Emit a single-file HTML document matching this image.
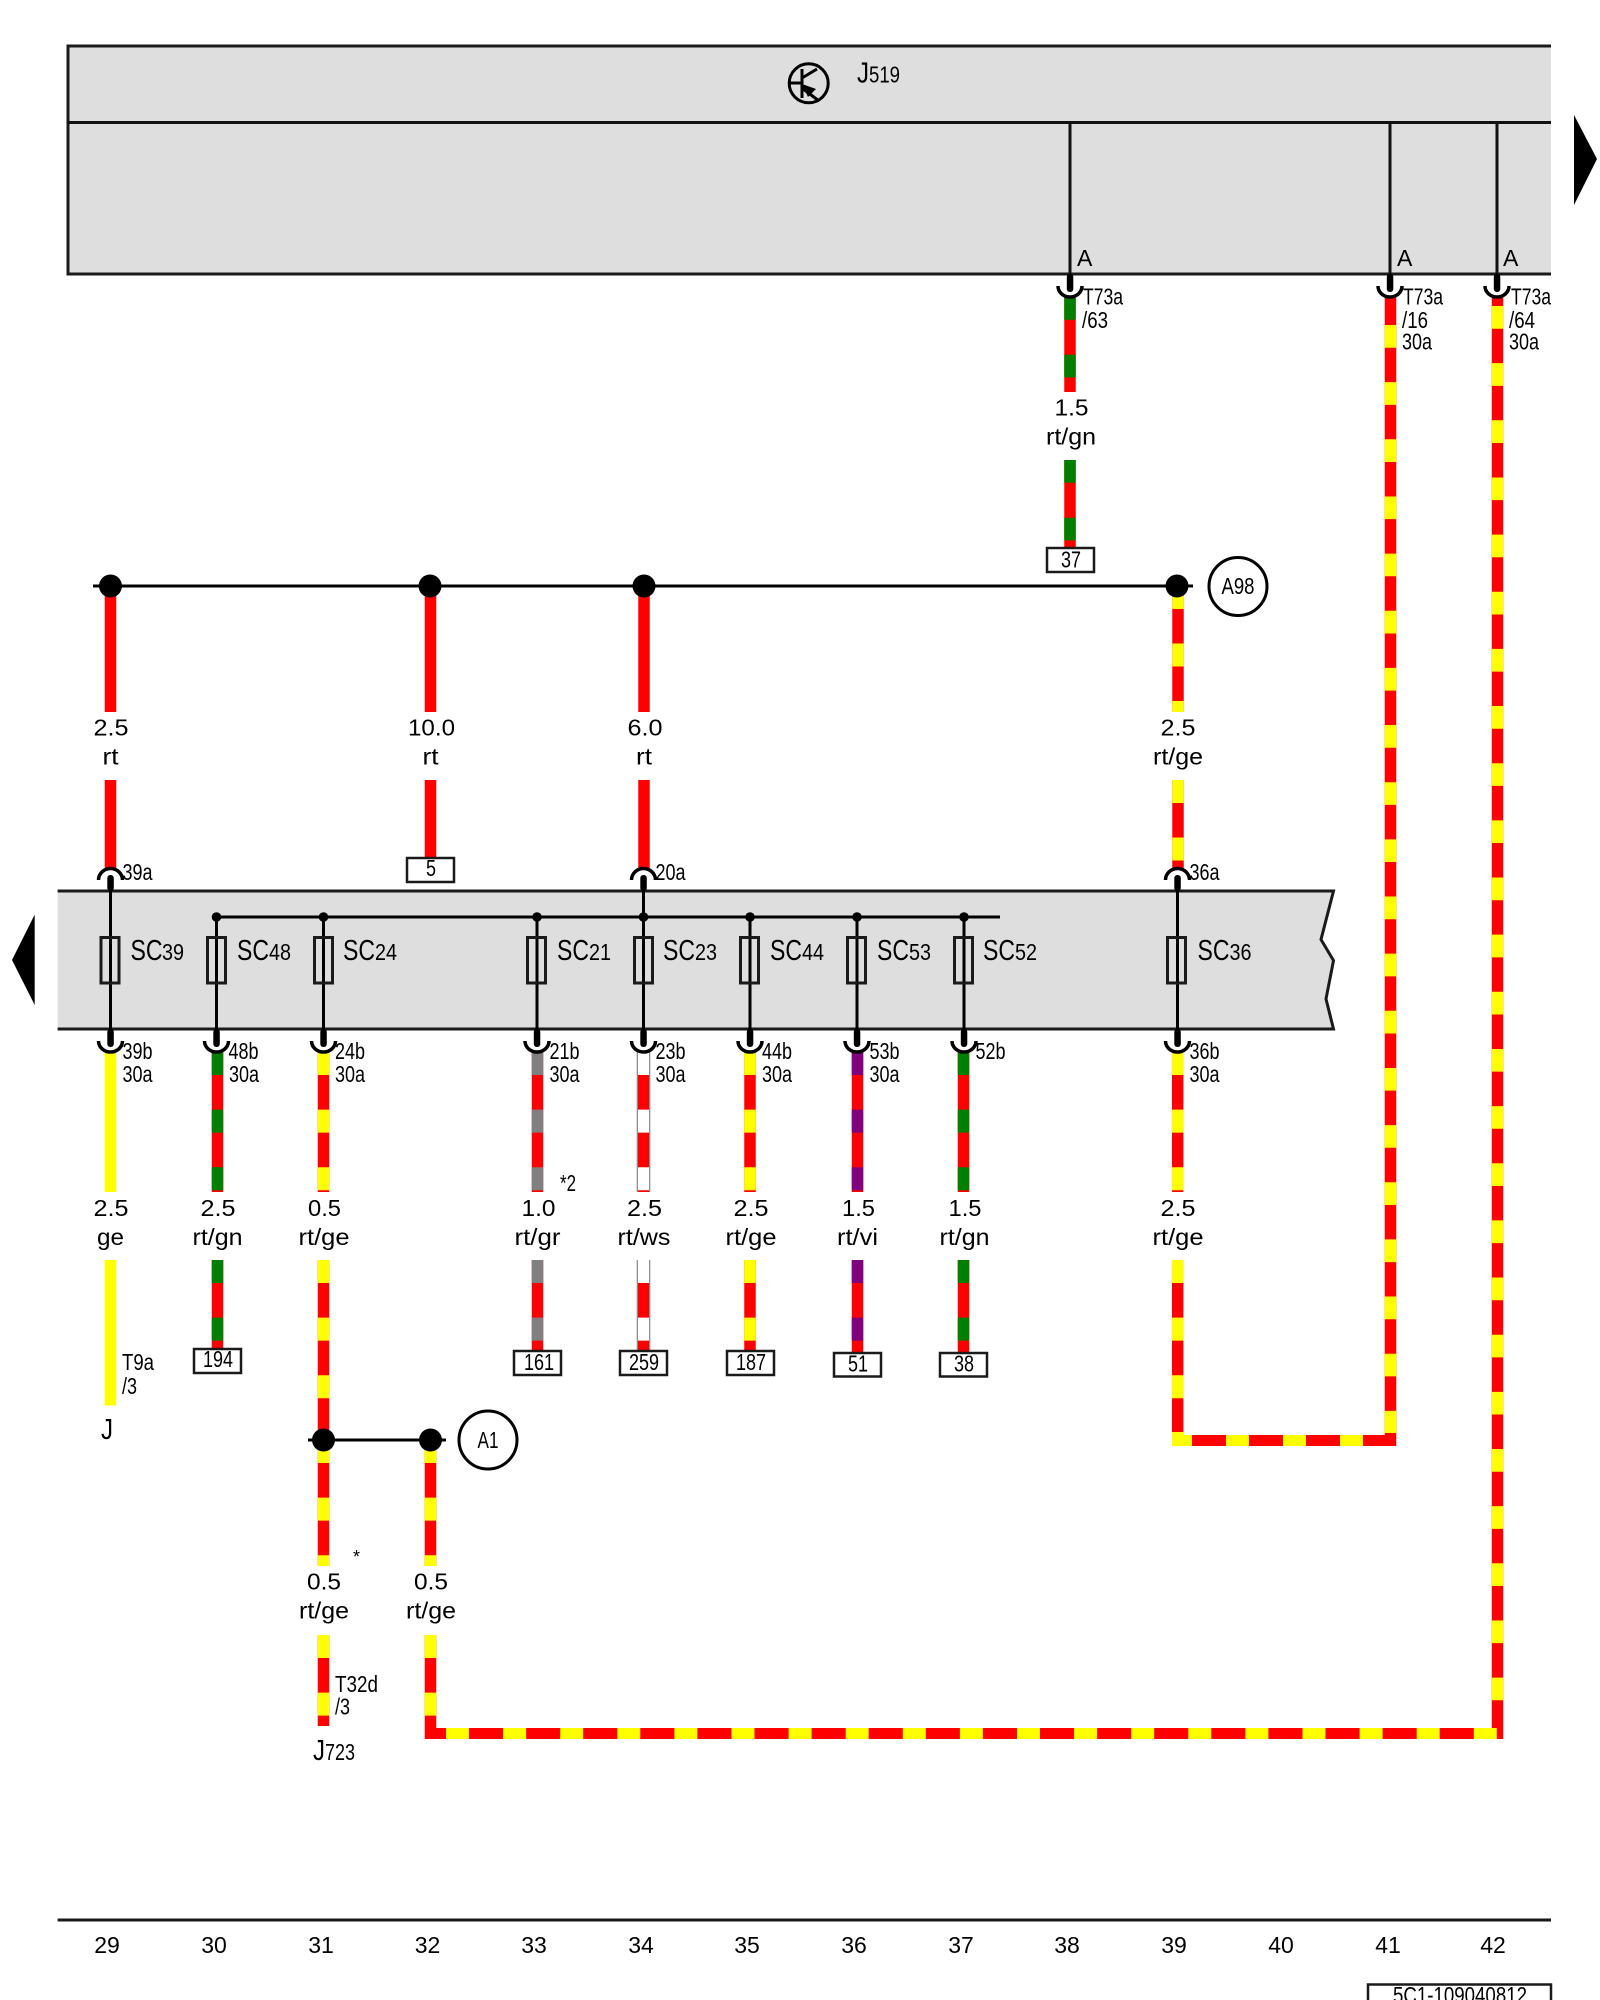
<!DOCTYPE html>
<html><head><meta charset="utf-8"><style>
html,body{margin:0;padding:0;background:#fff}
svg{display:block}
text{font-family:"Liberation Sans",sans-serif;font-size:23px;fill:#000}
.c{text-anchor:middle}
.b{font-size:29px}
.d{font-size:23px}
.w{fill:none;stroke-width:11.5}
</style></head><body>
<svg xmlns="http://www.w3.org/2000/svg" width="1600" height="2000" viewBox="0 0 1600 2000">
<defs>
<g id="cb"><path d="M-12 0a12 11 0 0 0 24 0" fill="none" stroke="#000" stroke-width="3.5"/><rect x="-3.2" y="-12" width="6.5" height="18" rx="3" fill="#000"/></g>
<g id="ct"><path d="M-12 0a12 11.5 0 0 1 24 0" fill="none" stroke="#000" stroke-width="3.5"/><rect x="-3.2" y="-5" width="6.5" height="16" rx="3" fill="#000"/></g>
<rect id="fu" x="-9" y="0" width="18" height="45.5" fill="none" stroke="#1a1a1a" stroke-width="3"/>
</defs>

<!-- J519 box -->
<path d="M1551 46H68V274H1551" fill="#dedede" stroke="#1a1a1a" stroke-width="3"/>
<path d="M68 122.5H1551" stroke="#111" stroke-width="3"/>
<path d="M1070 122V290M1390 122V290M1497 122V290" stroke="#111" stroke-width="3"/>
<circle cx="808.7" cy="83.3" r="19.5" fill="none" stroke="#000" stroke-width="3"/>
<path d="M802 69V98M789 83H802M802 78L817 69M802 88L819 101" fill="none" stroke="#000" stroke-width="3"/>
<path d="M802 84L816 89L808 97Z" fill="#000"/>
<text x="857" y="82.5" class="b" textLength="12" lengthAdjust="spacingAndGlyphs">J</text>
<text x="869" y="82.5" class="d" textLength="31" lengthAdjust="spacingAndGlyphs">519</text>
<polygon points="1574,115 1597,159 1574,205" fill="#000"/>
<text x="1077" y="266" class="d">A</text><text x="1397" y="266" class="d">A</text><text x="1503" y="266" class="d">A</text>

<!-- T73a wires -->
<path class="w" stroke="#f00" d="M1070 297V392M1070 460V548M1390.5 297V1446M1497.5 297V1739"/>
<path class="w" stroke="#008000" stroke-dasharray="22.7 35" d="M1070 297V392M1070 460V548"/>
<path class="w" stroke="#ff0" stroke-dasharray="22.7 34.45" d="M1390.5 325V1433M1497.5 306V1701"/>
<use href="#cb" x="1070" y="286"/><use href="#cb" x="1390" y="286"/><use href="#cb" x="1497" y="286"/>
<text x="1083" y="304.5" textLength="40" lengthAdjust="spacingAndGlyphs">T73a</text>
<text x="1082" y="328" textLength="26" lengthAdjust="spacingAndGlyphs">/63</text>
<text x="1403" y="304.5" textLength="40" lengthAdjust="spacingAndGlyphs">T73a</text>
<text x="1402" y="328" textLength="26" lengthAdjust="spacingAndGlyphs">/16</text>
<text x="1402" y="349.5" textLength="30" lengthAdjust="spacingAndGlyphs">30a</text>
<text x="1511" y="304.5" textLength="40" lengthAdjust="spacingAndGlyphs">T73a</text>
<text x="1509" y="328" textLength="26" lengthAdjust="spacingAndGlyphs">/64</text>
<text x="1509" y="349.5" textLength="30" lengthAdjust="spacingAndGlyphs">30a</text>
<text x="1071.5" y="415.5" class="c" textLength="34" lengthAdjust="spacingAndGlyphs">1.5</text>
<text x="1071" y="444.5" class="c" textLength="50" lengthAdjust="spacingAndGlyphs">rt/gn</text>
<rect x="1047" y="548" width="47" height="24" fill="#fff" stroke="#1a1a1a" stroke-width="2.5"/>
<text x="1071" y="567.5" class="c" textLength="20" lengthAdjust="spacingAndGlyphs">37</text>

<!-- top bus -->
<path d="M93 586H1193" stroke="#000" stroke-width="3"/>
<path class="w" stroke="#f00" d="M110.5 586V712M110.5 780V870M430.5 586V712M430.5 780V858M644 586V712M644 780V870M1178 586V712M1178 780V870"/>
<path class="w" stroke="#ff0" stroke-dasharray="23 34.5" d="M1178 586V712M1178 780V870"/>
<circle cx="110.5" cy="586" r="11.5" fill="#000"/><circle cx="430" cy="586" r="11.5" fill="#000"/><circle cx="644" cy="586" r="11.5" fill="#000"/><circle cx="1177" cy="586" r="11.5" fill="#000"/>
<circle cx="1238" cy="586.5" r="29" fill="#fff" stroke="#000" stroke-width="3"/>
<text x="1238" y="594" class="c" textLength="33" lengthAdjust="spacingAndGlyphs">A98</text>
<text x="111" y="735.5" class="c" textLength="35" lengthAdjust="spacingAndGlyphs">2.5</text><text x="110.5" y="764.5" class="c" textLength="16" lengthAdjust="spacingAndGlyphs">rt</text>
<text x="431.5" y="735.5" class="c" textLength="47" lengthAdjust="spacingAndGlyphs">10.0</text><text x="430.5" y="764.5" class="c" textLength="16" lengthAdjust="spacingAndGlyphs">rt</text>
<text x="645" y="735.5" class="c" textLength="35" lengthAdjust="spacingAndGlyphs">6.0</text><text x="644" y="764.5" class="c" textLength="16" lengthAdjust="spacingAndGlyphs">rt</text>
<text x="1178" y="735.5" class="c" textLength="35" lengthAdjust="spacingAndGlyphs">2.5</text><text x="1178" y="764.5" class="c" textLength="50" lengthAdjust="spacingAndGlyphs">rt/ge</text>
<rect x="407" y="858" width="47" height="24" fill="#fff" stroke="#1a1a1a" stroke-width="2.5"/>
<text x="431" y="876" class="c" textLength="10" lengthAdjust="spacingAndGlyphs">5</text>

<!-- SC band -->
<path d="M57.6 891H1333.5L1321 939.5L1333.5 960.5L1326 999L1333.5 1029H57.6" fill="#dedede" stroke="#1a1a1a" stroke-width="3"/>
<polygon points="34.7,914.6 12,960 34.7,1005" fill="#000"/>
<path d="M216.5 917H1000" stroke="#000" stroke-width="3"/>
<path d="M110.5 880V1040M216.5 917V1040M323.5 917V1040M537 917V1040M643.5 880V1040M750 917V1040M857 917V1040M964 917V1040M1177.5 880V1040" stroke="#000" stroke-width="3"/>
<g fill="#000"><circle cx="216.5" cy="917" r="4.8"/><circle cx="323.5" cy="917" r="4.8"/><circle cx="537" cy="917" r="4.8"/><circle cx="643.5" cy="917" r="4.8"/><circle cx="750" cy="917" r="4.8"/><circle cx="857" cy="917" r="4.8"/><circle cx="964" cy="917" r="4.8"/></g>
<use href="#fu" x="110" y="937.5"/><use href="#fu" x="216.5" y="937.5"/><use href="#fu" x="323.5" y="937.5"/><use href="#fu" x="536.5" y="937.5"/><use href="#fu" x="643.5" y="937.5"/><use href="#fu" x="749.5" y="937.5"/><use href="#fu" x="856.5" y="937.5"/><use href="#fu" x="963.5" y="937.5"/><use href="#fu" x="1176.5" y="937.5"/>
<g>
<text x="130.5" y="960" class="b" textLength="32" lengthAdjust="spacingAndGlyphs">SC</text><text x="162" y="960" class="d" textLength="22" lengthAdjust="spacingAndGlyphs">39</text>
<text x="237" y="960" class="b" textLength="32" lengthAdjust="spacingAndGlyphs">SC</text><text x="269" y="960" class="d" textLength="22" lengthAdjust="spacingAndGlyphs">48</text>
<text x="343" y="960" class="b" textLength="32" lengthAdjust="spacingAndGlyphs">SC</text><text x="375" y="960" class="d" textLength="22" lengthAdjust="spacingAndGlyphs">24</text>
<text x="557" y="960" class="b" textLength="32" lengthAdjust="spacingAndGlyphs">SC</text><text x="589" y="960" class="d" textLength="22" lengthAdjust="spacingAndGlyphs">21</text>
<text x="663" y="960" class="b" textLength="32" lengthAdjust="spacingAndGlyphs">SC</text><text x="695" y="960" class="d" textLength="22" lengthAdjust="spacingAndGlyphs">23</text>
<text x="770" y="960" class="b" textLength="32" lengthAdjust="spacingAndGlyphs">SC</text><text x="802" y="960" class="d" textLength="22" lengthAdjust="spacingAndGlyphs">44</text>
<text x="877" y="960" class="b" textLength="32" lengthAdjust="spacingAndGlyphs">SC</text><text x="909" y="960" class="d" textLength="22" lengthAdjust="spacingAndGlyphs">53</text>
<text x="983" y="960" class="b" textLength="32" lengthAdjust="spacingAndGlyphs">SC</text><text x="1015" y="960" class="d" textLength="22" lengthAdjust="spacingAndGlyphs">52</text>
<text x="1197.5" y="960" class="b" textLength="32" lengthAdjust="spacingAndGlyphs">SC</text><text x="1229.5" y="960" class="d" textLength="22" lengthAdjust="spacingAndGlyphs">36</text>
</g>

<!-- lower wires: red base -->
<path class="w" stroke="#f00" d="M217.5 1052V1192M217.5 1260V1349M323.5 1052V1192M323.5 1260V1566M323.5 1635V1726M430.5 1440V1566M430.5 1635V1739M537.5 1052V1192M537.5 1260V1351M643.5 1052V1192M643.5 1260V1351M750 1052V1192M750 1260V1351M857.5 1052V1192M857.5 1260V1353M963.5 1052V1192M963.5 1260V1353M1177.7 1052V1192M1177.7 1260V1432"/>
<path class="w" stroke="#ff0" d="M110.5 1052V1192M110.5 1260V1405.5"/>
<g class="w" fill="none" stroke-width="11.5" stroke-dasharray="23 34.6">
<path stroke="#008000" d="M217.5 1052V1192M217.5 1260V1349M963.5 1052V1192M963.5 1260V1353"/>
<path stroke="#ff0" d="M323.5 1052V1192M323.5 1260V1432M323.5 1440V1566M323.5 1635V1726M430.5 1440V1566M430.5 1635V1739M750 1052V1192M750 1260V1351M1177.7 1052V1192M1177.7 1260V1432"/>
<path stroke="#808080" d="M537.5 1052V1192M537.5 1260V1351"/>
<path stroke="#fff" d="M643.5 1052V1192M643.5 1260V1351"/>
<path stroke="#800080" d="M857.5 1052V1192M857.5 1260V1353"/>
</g>
<path d="M637.3 1052V1192M649.7 1052V1192M637.3 1260V1351M649.7 1260V1351" stroke="#888" stroke-width="1.2"/>

<!-- horizontal runs -->
<path d="M1172 1440.5H1396" fill="none" stroke="#f00" stroke-width="11"/>
<path d="M1172 1440.5H1363" fill="none" stroke="#ff0" stroke-width="11" stroke-dasharray="20 34 23 34 23 34 23 34"/>
<rect x="1172" y="1432" width="12" height="4" fill="#ff0"/>
<path d="M425 1733.5H1503" fill="none" stroke="#f00" stroke-width="11"/>
<path d="M446 1733.5H1497" fill="none" stroke="#ff0" stroke-width="11" stroke-dasharray="23 34.1"/>

<!-- connectors -->
<use href="#ct" x="110.5" y="880"/><use href="#ct" x="643.5" y="880"/><use href="#ct" x="1177.5" y="880"/>
<use href="#cb" x="110.5" y="1041"/><use href="#cb" x="216.5" y="1041"/><use href="#cb" x="323.5" y="1041"/><use href="#cb" x="537" y="1041"/><use href="#cb" x="643.5" y="1041"/><use href="#cb" x="750" y="1041"/><use href="#cb" x="857" y="1041"/><use href="#cb" x="964" y="1041"/><use href="#cb" x="1177.5" y="1041"/>
<g>
<text x="122.5" y="880" textLength="30" lengthAdjust="spacingAndGlyphs">39a</text>
<text x="655.5" y="880" textLength="30" lengthAdjust="spacingAndGlyphs">20a</text>
<text x="1189.5" y="880" textLength="30" lengthAdjust="spacingAndGlyphs">36a</text>
<text x="122.5" y="1059" textLength="30" lengthAdjust="spacingAndGlyphs">39b</text><text x="122.5" y="1082" textLength="30" lengthAdjust="spacingAndGlyphs">30a</text>
<text x="228.5" y="1059" textLength="30" lengthAdjust="spacingAndGlyphs">48b</text><text x="229" y="1082" textLength="30" lengthAdjust="spacingAndGlyphs">30a</text>
<text x="335" y="1059" textLength="30" lengthAdjust="spacingAndGlyphs">24b</text><text x="335" y="1082" textLength="30" lengthAdjust="spacingAndGlyphs">30a</text>
<text x="549.5" y="1059" textLength="30" lengthAdjust="spacingAndGlyphs">21b</text><text x="549.5" y="1082" textLength="30" lengthAdjust="spacingAndGlyphs">30a</text>
<text x="655.5" y="1059" textLength="30" lengthAdjust="spacingAndGlyphs">23b</text><text x="655.5" y="1082" textLength="30" lengthAdjust="spacingAndGlyphs">30a</text>
<text x="762" y="1059" textLength="30" lengthAdjust="spacingAndGlyphs">44b</text><text x="762" y="1082" textLength="30" lengthAdjust="spacingAndGlyphs">30a</text>
<text x="869.5" y="1059" textLength="30" lengthAdjust="spacingAndGlyphs">53b</text><text x="869.5" y="1082" textLength="30" lengthAdjust="spacingAndGlyphs">30a</text>
<text x="975.5" y="1059" textLength="30" lengthAdjust="spacingAndGlyphs">52b</text>
<text x="1189.5" y="1059" textLength="30" lengthAdjust="spacingAndGlyphs">36b</text><text x="1189.5" y="1082" textLength="30" lengthAdjust="spacingAndGlyphs">30a</text>
<text x="560" y="1191" textLength="16" lengthAdjust="spacingAndGlyphs">*2</text>
</g>

<!-- size / colour labels -->
<g class="c">
<text x="111" y="1216" class="c" textLength="35" lengthAdjust="spacingAndGlyphs">2.5</text><text x="110.5" y="1245" class="c" textLength="27" lengthAdjust="spacingAndGlyphs">ge</text>
<text x="218" y="1216" class="c" textLength="35" lengthAdjust="spacingAndGlyphs">2.5</text><text x="217.5" y="1245" class="c" textLength="50" lengthAdjust="spacingAndGlyphs">rt/gn</text>
<text x="324.5" y="1216" class="c" textLength="33" lengthAdjust="spacingAndGlyphs">0.5</text><text x="324" y="1245" class="c" textLength="51" lengthAdjust="spacingAndGlyphs">rt/ge</text>
<text x="538.5" y="1216" class="c" textLength="34" lengthAdjust="spacingAndGlyphs">1.0</text><text x="537.5" y="1245" class="c" textLength="46" lengthAdjust="spacingAndGlyphs">rt/gr</text>
<text x="644.5" y="1216" class="c" textLength="35" lengthAdjust="spacingAndGlyphs">2.5</text><text x="644" y="1245" class="c" textLength="53" lengthAdjust="spacingAndGlyphs">rt/ws</text>
<text x="751" y="1216" class="c" textLength="35" lengthAdjust="spacingAndGlyphs">2.5</text><text x="751" y="1245" class="c" textLength="51" lengthAdjust="spacingAndGlyphs">rt/ge</text>
<text x="858.5" y="1216" class="c" textLength="33" lengthAdjust="spacingAndGlyphs">1.5</text><text x="857.5" y="1245" class="c" textLength="41" lengthAdjust="spacingAndGlyphs">rt/vi</text>
<text x="965" y="1216" class="c" textLength="33" lengthAdjust="spacingAndGlyphs">1.5</text><text x="964.5" y="1245" class="c" textLength="50" lengthAdjust="spacingAndGlyphs">rt/gn</text>
<text x="1178" y="1216" class="c" textLength="35" lengthAdjust="spacingAndGlyphs">2.5</text><text x="1178" y="1245" class="c" textLength="51" lengthAdjust="spacingAndGlyphs">rt/ge</text>
<text x="324" y="1589.5" class="c" textLength="34" lengthAdjust="spacingAndGlyphs">0.5</text><text x="324" y="1618.5" class="c" textLength="50" lengthAdjust="spacingAndGlyphs">rt/ge</text>
<text x="431" y="1589.5" class="c" textLength="34" lengthAdjust="spacingAndGlyphs">0.5</text><text x="431" y="1618.5" class="c" textLength="50" lengthAdjust="spacingAndGlyphs">rt/ge</text>
</g>

<!-- terminal boxes -->
<g fill="#fff" stroke="#1a1a1a" stroke-width="2.5">
<rect x="194" y="1349" width="47" height="24"/><rect x="514" y="1351" width="47" height="24"/><rect x="620" y="1351" width="47" height="24"/><rect x="727" y="1351" width="47" height="24"/><rect x="834" y="1353" width="47" height="23.5"/><rect x="940" y="1353" width="47" height="23.5"/>
</g>
<text x="218" y="1367" class="c" textLength="30" lengthAdjust="spacingAndGlyphs">194</text>
<text x="539" y="1370" class="c" textLength="30" lengthAdjust="spacingAndGlyphs">161</text>
<text x="644" y="1370" class="c" textLength="30" lengthAdjust="spacingAndGlyphs">259</text>
<text x="751" y="1370" class="c" textLength="30" lengthAdjust="spacingAndGlyphs">187</text>
<text x="858" y="1371.5" class="c" textLength="20" lengthAdjust="spacingAndGlyphs">51</text>
<text x="964" y="1371.5" class="c" textLength="20" lengthAdjust="spacingAndGlyphs">38</text>

<text x="122" y="1370" textLength="32" lengthAdjust="spacingAndGlyphs">T9a</text>
<text x="122" y="1394" textLength="15" lengthAdjust="spacingAndGlyphs">/3</text>
<text x="101" y="1439" class="b" textLength="12" lengthAdjust="spacingAndGlyphs">J</text>

<!-- A1 -->
<path d="M308 1440H446" stroke="#000" stroke-width="3"/>
<circle cx="323.5" cy="1440" r="11.5" fill="#000"/><circle cx="430.5" cy="1440" r="11.5" fill="#000"/>
<circle cx="488" cy="1440" r="29" fill="#fff" stroke="#000" stroke-width="3"/>
<text x="488" y="1448" class="c" textLength="21" lengthAdjust="spacingAndGlyphs">A1</text>
<text x="353" y="1563" style="font-size:18px">*</text>
<text x="335" y="1692" textLength="43" lengthAdjust="spacingAndGlyphs">T32d</text>
<text x="335" y="1714.5" textLength="15" lengthAdjust="spacingAndGlyphs">/3</text>
<text x="313" y="1760" class="b" textLength="12" lengthAdjust="spacingAndGlyphs">J</text>
<text x="325" y="1760" class="d" textLength="30" lengthAdjust="spacingAndGlyphs">723</text>

<!-- footer -->
<path d="M57.6 1920H1551" stroke="#1a1a1a" stroke-width="3"/>
<g>
<text x="107" y="1953" class="c d">29</text><text x="214" y="1953" class="c d">30</text><text x="321" y="1953" class="c d">31</text><text x="427.5" y="1953" class="c d">32</text><text x="534" y="1953" class="c d">33</text><text x="641" y="1953" class="c d">34</text><text x="747" y="1953" class="c d">35</text><text x="854" y="1953" class="c d">36</text><text x="961" y="1953" class="c d">37</text><text x="1067" y="1953" class="c d">38</text><text x="1174" y="1953" class="c d">39</text><text x="1281" y="1953" class="c d">40</text><text x="1388" y="1953" class="c d">41</text><text x="1493" y="1953" class="c d">42</text>
</g>
<rect x="1368" y="1984.5" width="183" height="30" fill="#fff" stroke="#1a1a1a" stroke-width="2.5"/>
<text x="1460" y="2003" class="c" textLength="134" lengthAdjust="spacingAndGlyphs">5C1-109040812</text>
</svg>
</body></html>
